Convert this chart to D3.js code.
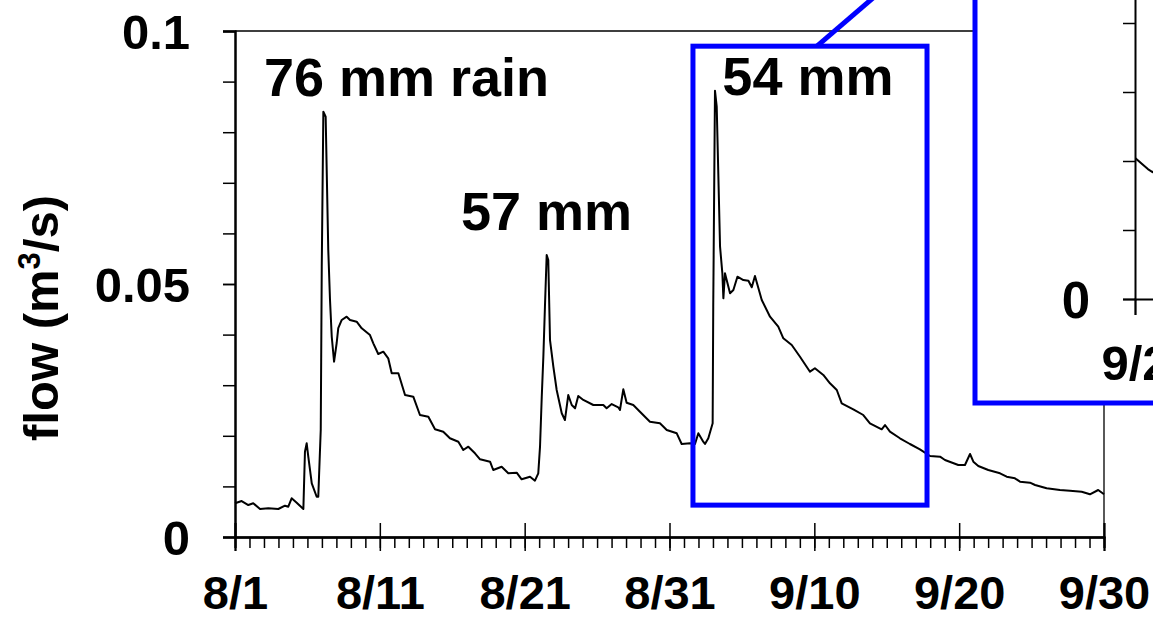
<!DOCTYPE html>
<html>
<head>
<meta charset="UTF-8">
<title>flow</title>
<script src="https://cdn.jsdelivr.net/npm/d3@7/dist/d3.min.js"></script>
<style>
  body { margin: 0; background: #fff; }
  svg { display: block; }
  text { font-family: "Liberation Sans", Arial, sans-serif; font-weight: bold; fill: #000; }
  .axis path { stroke: #000; stroke-width: 2; }
  .axis line { stroke: #000; stroke-width: 1.5; }
  .frame { fill: none; stroke: #000; stroke-width: 1.3; }
  .flow { fill: none; stroke: #000; stroke-width: 2; stroke-linejoin: round; }
  .blue { fill: none; stroke: #0000ff; stroke-width: 5; }
</style>
</head>
<body>
<div id="graphe"></div>
<script>
// days after 8/1 (fractional) and flow in m3/s
var days = [0, 0.46, 0.92, 1.26, 1.73, 2.30, 2.99, 3.45, 3.68, 3.91, 4.26, 4.72, 4.83, 4.95, 5.06, 5.30,
  5.64, 5.75, 5.92, 5.99, 6.10, 6.26, 6.44, 6.56, 6.68, 6.84, 7.02, 7.13, 7.37, 7.71, 7.94, 8.40,
  8.75, 9.32, 9.55, 9.89, 10.24, 10.58, 10.82, 11.28, 11.74, 12.31, 12.77, 13.35, 13.81, 14.38, 14.84,
  15.42, 15.76, 16.11, 16.57, 16.92, 17.61, 17.83, 18.41, 18.87, 19.45, 19.79, 20.37, 20.71, 20.94,
  21.06, 21.18, 21.29, 21.40, 21.52, 21.63, 21.75, 21.98, 22.21, 22.56, 22.78, 23.01, 23.25, 23.48,
  23.70, 24.05, 24.74, 25.43, 25.66, 26.01, 26.46, 26.58, 26.81, 27.04, 27.50, 27.96, 28.65, 29.34,
  29.81, 30.50, 30.84, 31.42, 31.76, 31.99, 32.33, 32.45, 32.68, 32.98, 33.02, 33.14, 33.26, 33.49,
  33.65, 33.72, 33.83, 34.18, 34.41, 34.69, 35.10, 35.45, 35.68, 35.90, 36.37, 36.94, 37.51, 37.86,
  38.44, 39.01, 39.70, 40.04, 40.62, 41.08, 41.55, 41.89, 42.69, 43.38, 43.84, 44.65, 44.88, 45.22,
  45.91, 46.60, 47.29, 47.99, 48.68, 49.02, 49.94, 50.40, 50.75, 50.98, 51.32, 52.01, 52.82, 53.28,
  53.85, 54.20, 54.89, 55.24, 56.04, 56.96, 57.65, 58.46, 59.03, 59.60, 60.0];
var flow = [0.00666, 0.00711, 0.00632, 0.00666, 0.00553, 0.00567, 0.00553, 0.00619, 0.00599, 0.00765,
  0.00678, 0.00553, 0.01686, 0.01852, 0.01587, 0.01061, 0.00796, 0.00796, 0.02115, 0.05342, 0.08405,
  0.08306, 0.05672, 0.04684, 0.03958, 0.03464, 0.03834, 0.04130, 0.04289, 0.04354, 0.04289, 0.04255,
  0.04125, 0.03992, 0.03828, 0.03617, 0.03662, 0.03532, 0.03235, 0.03235, 0.02806, 0.02773, 0.02411,
  0.02377, 0.02128, 0.02081, 0.01951, 0.01883, 0.01719, 0.01785, 0.01654, 0.01536, 0.01488, 0.01324,
  0.01389, 0.01259, 0.01271, 0.01140, 0.01192, 0.01113, 0.01259, 0.01785, 0.02773, 0.03563, 0.04551,
  0.05573, 0.05474, 0.03893, 0.03366, 0.02905, 0.02445, 0.02312, 0.02806, 0.02609, 0.02543, 0.02787,
  0.02708, 0.02609, 0.02609, 0.02543, 0.02628, 0.02563, 0.02510, 0.02919, 0.02654, 0.02609, 0.02476,
  0.02279, 0.02247, 0.02115, 0.02049, 0.01838, 0.01852, 0.01838, 0.02049, 0.01883, 0.01838, 0.01951,
  0.02247, 0.04551, 0.08820, 0.08504, 0.05737, 0.05211, 0.04717, 0.05211, 0.04816, 0.04881, 0.05144,
  0.05079, 0.05065, 0.04935, 0.05158, 0.04684, 0.04354, 0.04156, 0.03927, 0.03794, 0.03563, 0.03267,
  0.03334, 0.03202, 0.03038, 0.02905, 0.02642, 0.02524, 0.02411, 0.02247, 0.02128, 0.02213, 0.02081,
  0.01951, 0.01838, 0.01733, 0.01601, 0.01587, 0.01522, 0.01423, 0.01423, 0.01640, 0.01488, 0.01403,
  0.01324, 0.01259, 0.01192, 0.01160, 0.01093, 0.01073, 0.01028, 0.00962, 0.00929, 0.00915, 0.00895,
  0.00844, 0.00929, 0.00844];

var tickDays = [0, 10, 20, 30, 40, 50, 60];
var tickLabels = ["8/1", "8/11", "8/21", "8/31", "9/10", "9/20", "9/30"];
var yMajor = [0, 0.05, 0.1];
var yLabels = ["0", "0.05", "0.1"];

// rain events : label, day, flow (text anchor)
var rainText = ["76 mm rain", "57 mm", "54 mm"];
var rainDay = [2.0, 15.6, 33.65];
var rainFlow = [0.0871, 0.0607, 0.0873];

// zoomed period : days and flow range
var zoomDays = [31.62, 47.78];
var zoomFlow = [0.0063, 0.097];

// inset
var insetDays = [32, 48];
var insetTicks = [32];
var insetLabels = ["9/2"];

var W = 1153, H = 617;
var svg = d3.select("#graphe").append("svg").attr("width", W).attr("height", H);

var x = d3.scaleLinear().domain([0, 60]).range([235, 1104]);
var y = d3.scaleLinear().domain([0, 0.1]).range([537, 31]);
var pts = days.map(function(d, i) { return [d, flow[i]]; });

// cadre
svg.append("path").attr("class", "frame")
  .attr("d", "M" + x(0) + "," + y(0.1) + "H" + x(60) + "V" + y(0));

// axe y
svg.append("g").attr("class", "axis").attr("transform", "translate(" + x(0) + ",0)")
  .call(d3.axisLeft(y).tickValues(d3.range(0, 0.1001, 0.01)).tickSize(12).tickFormat(""));
var yax = svg.append("g").attr("class", "axis").attr("transform", "translate(" + x(0) + ",0)")
  .call(d3.axisLeft(y).tickValues(yMajor).tickSize(12).tickPadding(33)
    .tickFormat(function(d, i) { return yLabels[i]; }));
yax.selectAll("text").style("font-size", "49px").attr("dy", "0.36em");

// axe x
svg.append("g").attr("class", "axis").attr("transform", "translate(0," + y(0) + ")")
  .call(d3.axisBottom(x).tickValues(d3.range(0, 61, 1)).tickSize(11).tickFormat(""));
svg.append("g").attr("class", "axis").attr("transform", "translate(0," + y(0) + ")")
  .call(d3.axisTop(x).tickValues(tickDays).tickSize(14).tickFormat(""));
var xax = svg.append("g").attr("class", "axis").attr("transform", "translate(0," + y(0) + ")")
  .call(d3.axisBottom(x).tickValues(tickDays).tickSize(14).tickPadding(25)
    .tickFormat(function(d, i) { return tickLabels[i]; }));
xax.selectAll("text").style("font-size", "47px");

// titre axe y
var yt = svg.append("text").attr("transform", "translate(58,318) rotate(-90)")
  .attr("text-anchor", "middle").style("font-size", "49px");
yt.append("tspan").text("flow (m");
yt.append("tspan").text("3").style("font-size", "31px").attr("dy", "-18");
yt.append("tspan").text("/s)").attr("dy", "18");

// courbe
var line = d3.line().x(function(d) { return x(d[0]); }).y(function(d) { return y(d[1]); });
svg.append("path").attr("class", "flow").attr("d", line(pts));

// pluies
svg.selectAll(".rain").data(rainText).enter().append("text")
  .attr("class", "rain")
  .attr("x", function(d, i) { return x(rainDay[i]); })
  .attr("y", function(d, i) { return y(rainFlow[i]); })
  .style("font-size", "54px")
  .text(function(d) { return d; });

// cadre bleu de la période zoomée
svg.append("rect").attr("class", "blue")
  .attr("x", x(zoomDays[0])).attr("y", y(zoomFlow[1]))
  .attr("width", x(zoomDays[1]) - x(zoomDays[0]))
  .attr("height", y(zoomFlow[0]) - y(zoomFlow[1]));

// encart (coupé à droite)
var inset = svg.append("g");
inset.append("rect").attr("x", 975).attr("y", -300).attr("width", 600).attr("height", 703)
  .attr("fill", "#fff").attr("stroke", "#0000ff").attr("stroke-width", 5);
var xi = d3.scaleLinear().domain(insetDays).range([1135, 1135 + 16 * 39]);
var yi = d3.scaleLinear().domain([0, 0.06]).range([299, 299 - 6 * 69]);
svg.append("clipPath").attr("id", "clipi").append("rect")
  .attr("x", 1135).attr("y", -200).attr("width", 700).attr("height", 499);
inset.append("g").attr("class", "axis").attr("transform", "translate(1135,0)")
  .call(d3.axisLeft(yi).tickValues(d3.range(0, 0.0601, 0.01)).tickSize(12).tickPadding(33)
    .tickFormat(function(d) { return d === 0 ? "0" : ""; }))
  .selectAll("text").style("font-size", "51px").attr("dy", "0.36em");
inset.append("g").attr("class", "axis").attr("transform", "translate(0,299)")
  .call(d3.axisBottom(xi).tickValues(insetTicks).tickSize(16).tickPadding(30)
    .tickFormat(function(d, i) { return insetLabels[i]; }))
  .selectAll("text").style("font-size", "49px");
inset.append("path").attr("class", "flow").attr("clip-path", "url(#clipi)")
  .attr("d", d3.line().x(function(d) { return xi(d[0]); }).y(function(d) { return yi(d[1]); })(pts));

// trait de liaison
var cx = x(zoomDays[0]) + 124, cy = y(zoomFlow[1]);
svg.append("line").attr("class", "blue")
  .attr("x1", cx).attr("y1", cy).attr("x2", cx + 50 / 43 * (cy + 200)).attr("y2", -200);
</script>
</body>
</html>
